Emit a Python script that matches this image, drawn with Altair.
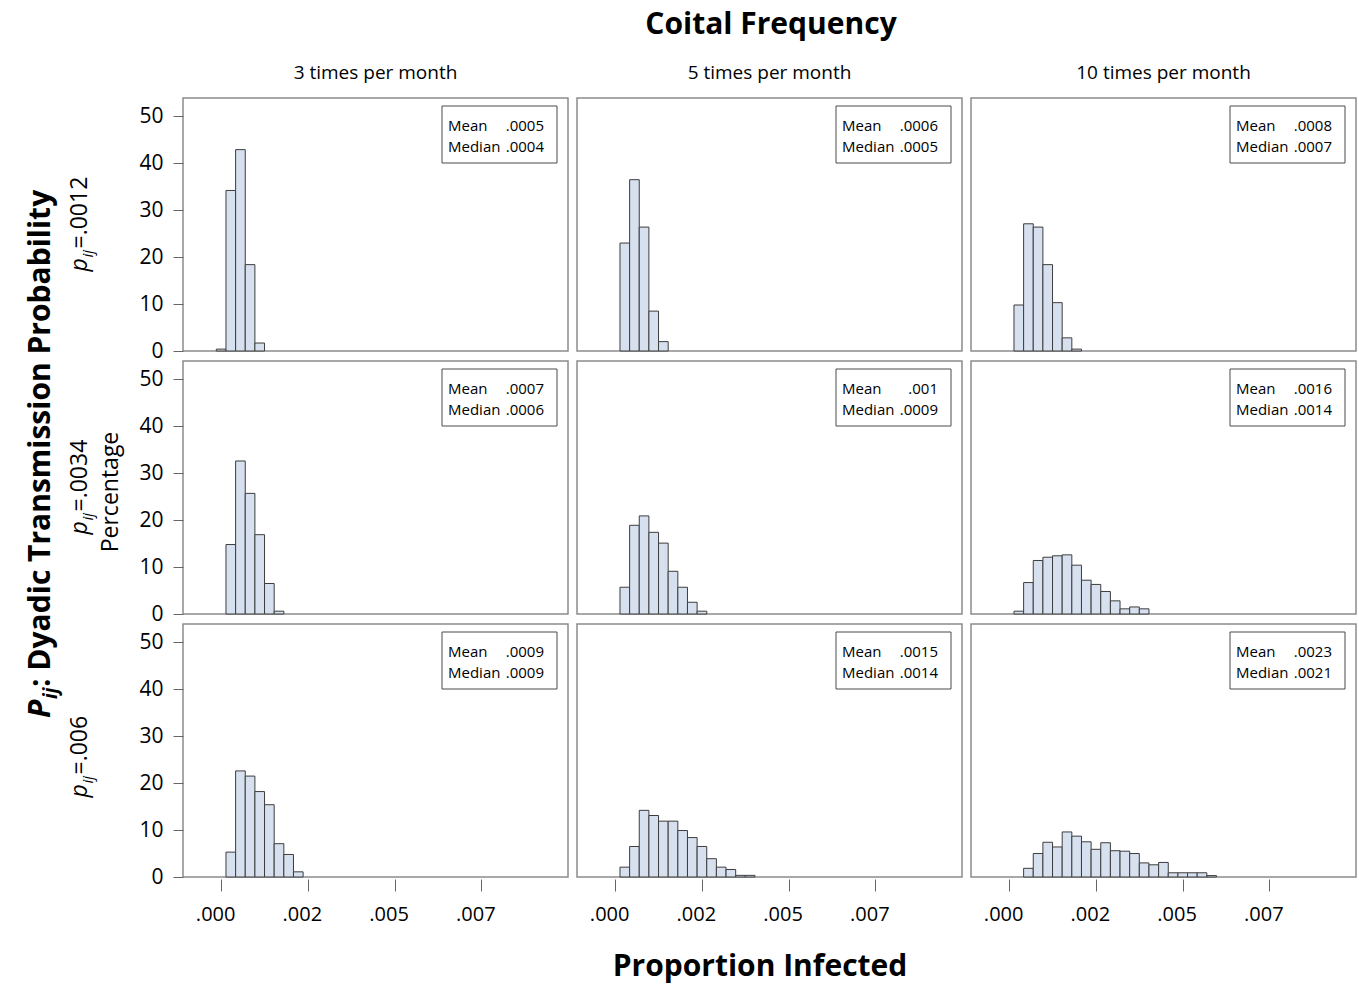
import altair as alt
import pandas as pd

FONT = "Open Sans"

FREQ_LABELS = ["3 times per month", "5 times per month", "10 times per month"]
PIJ_VALUES = ["=.0012", "=.0034", "=.006"]

# Histogram bins are centred on k * BIN_WIDTH
BIN_WIDTH = 0.000278

# Percentage of runs per bin, one list per panel (row = p_ij, column = coital frequency)
FIRST_BIN_0012 = [0, 1, 1]
PCT_0012_3 = [0.4, 34.2, 42.9, 18.4, 1.7]
PCT_0012_5 = [23.0, 36.5, 26.4, 8.5, 2.0]
PCT_0012_10 = [9.8, 27.1, 26.4, 18.4, 10.3, 2.8, 0.4]

FIRST_BIN_0034 = [1, 1, 1]
PCT_0034_3 = [14.8, 32.6, 25.7, 16.9, 6.5, 0.6]
PCT_0034_5 = [5.7, 18.9, 20.9, 17.4, 15.1, 9.1, 5.7, 2.5, 0.6]
PCT_0034_10 = [0.6, 6.7, 11.4, 12.1, 12.4, 12.6, 10.4, 7.2, 6.3, 4.8, 2.8, 1.1, 1.5, 1.1]

FIRST_BIN_006 = [1, 1, 2]
PCT_006_3 = [5.3, 22.6, 21.5, 18.2, 15.4, 7.1, 4.8, 1.1]
PCT_006_5 = [2.1, 6.5, 14.2, 13.1, 11.9, 11.9, 9.9, 8.4, 6.5, 3.9, 2.1, 1.6, 0.35, 0.35]
PCT_006_10 = [1.85, 5.0, 7.4, 6.4, 9.6, 8.7, 7.5, 5.9, 7.3, 5.6, 5.5, 5.0,
              3.0, 2.6, 3.1, 0.9, 0.9, 0.9, 0.9, 0.3]

MEAN_0012 = [".0005", ".0006", ".0008"]
MEDIAN_0012 = [".0004", ".0005", ".0007"]
MEAN_0034 = [".0007", ".001", ".0016"]
MEDIAN_0034 = [".0006", ".0009", ".0014"]
MEAN_006 = [".0009", ".0015", ".0023"]
MEDIAN_006 = [".0009", ".0014", ".0021"]

X_TICKS = [0, 0.0025, 0.005, 0.0075]
X_TICK_LABELS = [".000", ".002", ".005", ".007"]
Y_TICKS = [0, 10, 20, 30, 40, 50]

ROWS = [
    (FIRST_BIN_0012, [PCT_0012_3, PCT_0012_5, PCT_0012_10], MEAN_0012, MEDIAN_0012),
    (FIRST_BIN_0034, [PCT_0034_3, PCT_0034_5, PCT_0034_10], MEAN_0034, MEDIAN_0034),
    (FIRST_BIN_006, [PCT_006_3, PCT_006_5, PCT_006_10], MEAN_006, MEDIAN_006),
]

W, H = 385, 253
X_SCALE = alt.Scale(domain=[-0.0011, 0.01], nice=False, zero=False)
Y_SCALE = alt.Scale(domain=[0, 53.9], nice=False)

BAR_FILL = "#d6e0ee"
BAR_STROKE = "#3d3d3d"

label_expr = "[{}][indexof([{}], datum.value)]".format(
    ",".join("'%s'" % s for s in X_TICK_LABELS), ",".join(str(v) for v in X_TICKS)
)

x_axis = alt.Axis(values=X_TICKS, labelExpr=label_expr, domain=False, grid=False,
                  ticks=True, tickSize=12, tickColor="#666", offset=2,
                  labelFont=FONT, labelFontSize=20, labelColor="black",
                  labelPadding=13, labelOffset=-6, labelFlush=False,
                  labelOverlap=False, title=None)
y_axis = alt.Axis(values=Y_TICKS, domain=False, grid=False, tickSize=10,
                  tickColor="#666", labelFont=FONT, labelFontSize=21,
                  labelColor="black", labelPadding=10, title=None)

one = pd.DataFrame({"k": [0]})


def text(content, x, y, size, weight="normal", style="normal", align="center",
         baseline="middle", angle=0):
    props = dict(font=FONT, fontSize=size, fontWeight=weight, fontStyle=style,
                 align=align, baseline=baseline, color="black")
    if angle:
        props["angle"] = angle
    return alt.Chart(one).mark_text(**props).encode(
        x=alt.value(x), y=alt.value(y), text=alt.value(content))


def hist_frame(pcts, first):
    lo = [(first + i - 0.5) * BIN_WIDTH for i in range(len(pcts))]
    return pd.DataFrame({"lo": lo, "hi": [v + BIN_WIDTH for v in lo], "pct": pcts})


def pij_label(value, center_y):
    # italic p with subscript ij, then the value, read bottom to top
    start = center_y + 47
    return [
        text("p", -96, start, 23, style="italic", align="left",
             baseline="alphabetic", angle=270),
        text("ij", -90, start - 14, 15, style="italic", align="left",
             baseline="alphabetic", angle=270),
        text(value, -96, start - 23, 23, align="left", baseline="alphabetic",
             angle=270),
    ]


panels = []
for r, (first_bins, pct_lists, means, medians) in enumerate(ROWS):
    for c in range(3):
        df = hist_frame(pct_lists[c], first_bins[c])
        bars = alt.Chart(df).mark_rect(
            fill=BAR_FILL, stroke=BAR_STROKE, strokeWidth=1
        ).encode(
            x=alt.X("lo:Q", scale=X_SCALE, axis=x_axis if r == 2 else None),
            x2="hi:Q",
            y=alt.Y("pct:Q", scale=Y_SCALE, axis=y_axis if c == 0 else None),
            y2=alt.datum(0),
        )
        stats = pd.DataFrame({"mean": [means[c]], "median": [medians[c]]})
        box = alt.Chart(stats).mark_rect(
            fill="white", stroke="#4a4a4a", strokeWidth=1
        ).encode(x=alt.value(259), x2=alt.value(374), y=alt.value(8), y2=alt.value(65))
        mean_lbl = text("Mean", 265, 33, 15, align="left", baseline="alphabetic")
        median_lbl = text("Median", 265, 54, 15, align="left", baseline="alphabetic")
        mean_val = alt.Chart(stats).mark_text(
            font=FONT, fontSize=15, align="right", baseline="alphabetic", color="black"
        ).encode(x=alt.value(361), y=alt.value(33), text="mean:N")
        median_val = alt.Chart(stats).mark_text(
            font=FONT, fontSize=15, align="right", baseline="alphabetic", color="black"
        ).encode(x=alt.value(361), y=alt.value(54), text="median:N")

        layers = [bars, box, mean_lbl, median_lbl, mean_val, median_val]
        if r == 0:
            layers.append(text(FREQ_LABELS[c], W / 2, -25, 19))
            if c == 1:
                layers.append(text("Coital Frequency", 194, -73, 30, weight="bold"))
        if c == 0:
            layers += pij_label(PIJ_VALUES[r], H / 2)
            if r == 1:
                layers.append(text("Percentage", -65, 131, 23, baseline="alphabetic",
                                   angle=270))
                start = 357
                layers += [
                    text("P", -133, start, 30, weight="bold", style="italic",
                         align="left", baseline="alphabetic", angle=270),
                    text("ij", -126, start - 19, 19, weight="bold", style="italic",
                         align="left", baseline="alphabetic", angle=270),
                    text(": Dyadic Transmission Probability", -133, start - 31, 30,
                         weight="bold", align="left", baseline="alphabetic", angle=270),
                ]
        if r == 2 and c == 1:
            layers.append(text("Proportion Infected", 183, 343, 30, weight="bold"))

        panels.append(alt.layer(*layers).properties(width=W, height=H))

chart = alt.concat(
    *panels, columns=3, spacing={"row": 10, "column": 9}, bounds="flush"
).properties(
    padding={"left": 25, "top": 9, "right": 2, "bottom": 5},
    background="white",
).configure_view(stroke="#8c8c8c", strokeWidth=1.5)

chart.save("out.html", embed_options={"renderer": "svg", "actions": False})
